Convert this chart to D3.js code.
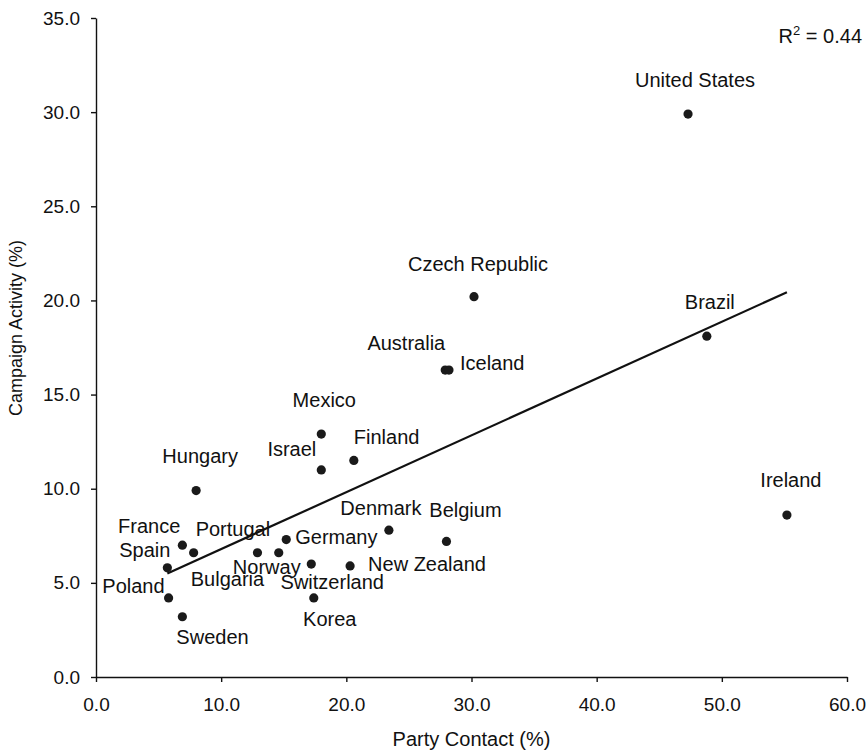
<!DOCTYPE html>
<html>
<head>
<meta charset="utf-8">
<script src="https://cdn.jsdelivr.net/npm/d3@7"></script>
<style>
  body { margin: 0; background: #fff; }
  svg { display: block; font-family: "Liberation Sans", Arial, Helvetica, sans-serif; }
</style>
</head>
<body>
<div id="chartDiv"></div>
<script>
// scatter of campaign activity against party contact

var countries = ["United States", "Czech Republic", "Brazil", "Australia", "Iceland",
                 "Mexico", "Israel", "Finland", "Hungary", "Ireland", "Denmark", "Belgium",
                 "France", "Portugal", "Germany", "Spain", "Bulgaria", "Norway",
                 "Switzerland", "New Zealand", "Poland", "Korea", "Sweden"];
var partyContact = [47.3, 30.2, 48.8, 27.9, 28.2,
                    18.0, 18.0, 20.6, 8.0, 55.2, 23.4, 28.0,
                    6.9, 7.8, 15.2, 5.7, 12.9, 14.6,
                    17.2, 20.3, 5.8, 17.4, 6.9];
var campaignActivity = [29.9, 20.2, 18.1, 16.3, 16.3,
                        12.9, 11.0, 11.5, 9.9, 8.6, 7.8, 7.2,
                        7.0, 6.6, 7.3, 5.8, 6.6, 6.6,
                        6.0, 5.9, 4.2, 4.2, 3.2];
var xTicks = [0, 10, 20, 30, 40, 50, 60];
var yTicks = [0, 5, 10, 15, 20, 25, 30, 35];
var rSquaredText = "0.44";
var xTitle = "Party Contact (%)";
var yTitle = "Campaign Activity (%)";

// where each country name sits relative to its dot: [anchor, dx, dy]
var labelLayout = {
    "United States": ["middle", 7, -27],
    "Czech Republic": ["middle", 4, -26],
    "Brazil": ["middle", 3, -27],
    "Australia": ["end", 0, -20],
    "Iceland": ["start", 11, 0],
    "Mexico": ["middle", 3, -27],
    "Israel": ["end", -5, -14],
    "Finland": ["start", 0, -16],
    "Hungary": ["middle", 4, -28],
    "Ireland": ["middle", 4, -28],
    "Denmark": ["middle", -8, -15],
    "Belgium": ["middle", 19, -24],
    "France": ["end", -2, -12],
    "Portugal": ["start", 2, -17],
    "Germany": ["start", 9, 4],
    "Spain": ["end", 3, -11],
    "Bulgaria": ["middle", -30, 33],
    "Norway": ["middle", -12, 21],
    "Switzerland": ["middle", 21, 25],
    "New Zealand": ["start", 18, 5],
    "Poland": ["end", -4, -5],
    "Korea": ["middle", 16, 28],
    "Sweden": ["start", -6, 27]
};

var width = 867;
var height = 756;

var dataset = [];
for (var i = 0; i < countries.length; i++) {
    dataset.push({ name: countries[i], x: partyContact[i], y: campaignActivity[i] });
}

var xScale = d3.scaleLinear().domain([0, 60]).range([96, 847]);
var yScale = d3.scaleLinear().domain([0, 35]).range([677, 18]);

var svg = d3.select("#chartDiv")
            .append("svg")
            .attr("width", width)
            .attr("height", height);

// axes
var xAxis = d3.axisBottom(xScale)
              .tickValues(xTicks)
              .tickFormat(d3.format(".1f"))
              .tickSize(5)
              .tickSizeOuter(0)
              .tickPadding(16);
var yAxis = d3.axisLeft(yScale)
              .tickValues(yTicks)
              .tickFormat(d3.format(".1f"))
              .tickSize(5)
              .tickSizeOuter(0)
              .tickPadding(11);

var gx = svg.append("g").attr("transform", "translate(0," + yScale(0) + ")").call(xAxis);
var gy = svg.append("g").attr("transform", "translate(" + xScale(0) + ",0)").call(yAxis);

[gx, gy].forEach(function(g) {
    g.selectAll("path, line").attr("stroke", "#111").attr("stroke-width", 1.4);
    g.selectAll("text").attr("fill", "#111").style("font-size", "19px")
     .style("font-family", "'Liberation Sans', Arial, sans-serif");
});

// axis titles
svg.append("text")
   .attr("x", (xScale(0) + xScale(60)) / 2)
   .attr("y", 746)
   .attr("text-anchor", "middle")
   .attr("fill", "#111")
   .style("font-size", "20px")
   .text(xTitle);

svg.append("text")
   .attr("transform", "translate(22,328) rotate(-90)")
   .attr("text-anchor", "middle")
   .attr("fill", "#111")
   .style("font-size", "18px")
   .text(yTitle);

// least squares trend line
var mx = d3.mean(dataset, function(d) { return d.x; });
var my = d3.mean(dataset, function(d) { return d.y; });
var sxy = d3.sum(dataset, function(d) { return (d.x - mx) * (d.y - my); });
var sxx = d3.sum(dataset, function(d) { return (d.x - mx) * (d.x - mx); });
var slope = sxy / sxx;
var intercept = my - slope * mx;
var xExt = d3.extent(dataset, function(d) { return d.x; });

svg.append("line")
   .attr("x1", xScale(xExt[0]))
   .attr("y1", yScale(intercept + slope * xExt[0]))
   .attr("x2", xScale(xExt[1]))
   .attr("y2", yScale(intercept + slope * xExt[1]))
   .attr("stroke", "#111")
   .attr("stroke-width", 2.2);

// dots
svg.selectAll("circle")
   .data(dataset)
   .enter()
   .append("circle")
   .attr("cx", function(d) { return xScale(d.x); })
   .attr("cy", function(d) { return yScale(d.y); })
   .attr("r", 4.6)
   .attr("fill", "#1a1a1a");

// country names
svg.selectAll("text.label")
   .data(dataset)
   .enter()
   .append("text")
   .attr("class", "label")
   .attr("x", function(d) { return xScale(d.x) + labelLayout[d.name][1]; })
   .attr("y", function(d) { return yScale(d.y) + labelLayout[d.name][2]; })
   .attr("text-anchor", function(d) { return labelLayout[d.name][0]; })
   .attr("fill", "#111")
   .style("font-size", "20px")
   .text(function(d) { return d.name; });

// R squared note
var r2 = svg.append("text")
            .attr("x", 862)
            .attr("y", 43)
            .attr("text-anchor", "end")
            .attr("fill", "#111")
            .style("font-size", "20px");
r2.append("tspan").text("R");
r2.append("tspan").attr("dy", -8).style("font-size", "13px").text("2");
r2.append("tspan").attr("dy", 8).text(" = " + rSquaredText);
</script>
</body>
</html>
